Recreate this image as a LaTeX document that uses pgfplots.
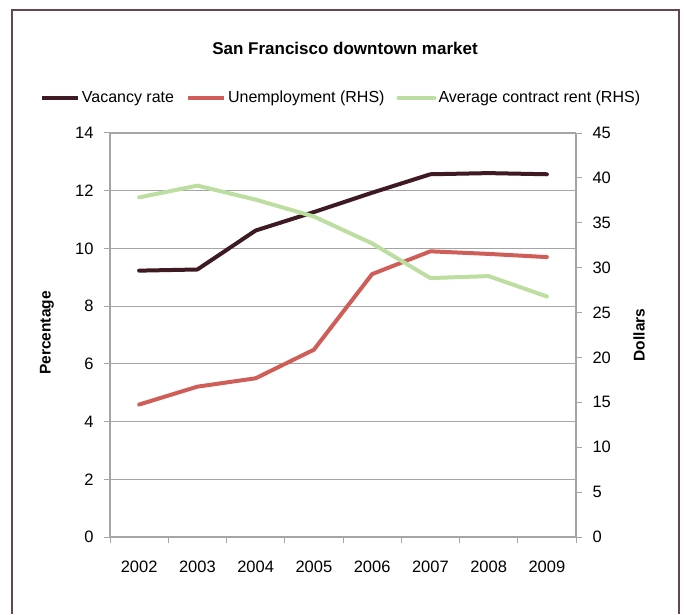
\documentclass[border=0pt]{standalone}
\usepackage{pgfplots}
\pgfplotsset{compat=1.18}
\usepackage{fontspec}
\setmainfont{Liberation Sans}
\definecolor{vac}{RGB}{62,26,34}
\definecolor{unemp}{RGB}{208,94,88}
\definecolor{rent}{RGB}{188,222,160}
\definecolor{gridc}{RGB}{165,165,165}
\definecolor{framec}{RGB}{100,70,80}
\begin{document}
\begin{tikzpicture}[x=1pt,y=1pt]
\fontsize{16}{19}\selectfont
\path[use as bounding box] (0pt,0pt) rectangle (684pt,614pt);
\draw[framec, line width=1.2pt] (12pt,0pt) -- (12pt,604pt) -- (679pt,604pt) -- (679pt,0pt);
\node[font=\fontsize{17}{20}\selectfont\bfseries] at (345pt,566pt) {San Francisco downtown market};
\node[font=\fontsize{15.5}{18}\selectfont\bfseries, rotate=90] at (47pt,281pt) {Percentage};
\node[font=\fontsize{15.5}{18}\selectfont\bfseries, rotate=90] at (639pt,279pt) {Dollars};
\pgfplotsset{
  common/.style={
    scale only axis, width=466pt, height=404pt,
    at={(110pt,77pt)}, anchor=south west,
    xmin=0.5, xmax=8.5,
    tick align=outside,
    major tick length=6pt, minor tick length=6pt,
    tick style={gridc, line width=1pt},
    axis line style={gridc, line width=1.2pt},
    ticklabel style={font=\fontsize{16.5}{19}\selectfont},
    /pgf/number format/assume math mode=true,
    clip=false,
  }
}
\begin{axis}[common,
  ymin=0, ymax=14, ytick={0,2,...,14},
  axis y line*=left, axis x line*=bottom,
  xtick={1,...,8}, xticklabels={2002,2003,2004,2005,2006,2007,2008,2009},
  major x tick style={draw=none},
  minor xtick={0.5,1.5,...,8.5},
  ymajorgrids, grid style={gridc, line width=1.2pt},
  yticklabel style={xshift=-5pt},
  xticklabel style={yshift=-12pt},
]
\addplot[vac, line width=4pt, line cap=round, line join=round] coordinates {
(1,9.23) (2,9.27) (3,10.62) (4,11.26) (5,11.93) (6,12.57) (7,12.61) (8,12.57)};
\addplot[unemp, line width=4pt, line cap=round, line join=round] coordinates {
(1,4.59) (2,5.21) (3,5.50) (4,6.49) (5,9.11) (6,9.90) (7,9.81) (8,9.70)};
\end{axis}
\begin{axis}[common,
  ymin=0, ymax=45, ytick={0,5,...,45},
  axis y line*=right, axis x line=none,
  yticklabel style={xshift=5pt},
  legend columns=3,
  legend style={at={(0.4957,1.0866)}, anchor=center, draw=none, fill=none,
    font=\fontsize{16}{19}\selectfont,
    /tikz/every even column/.append style={column sep=10pt}},
  legend image code/.code={\draw[#1] (0pt,0pt) -- (36pt,0pt);},
]
\addlegendimage{vac, line width=4pt}
\addlegendentry{Vacancy rate}
\addlegendimage{unemp, line width=4pt}
\addlegendentry{Unemployment (RHS)}
\addplot[rent, line width=4pt, line cap=round, line join=round] coordinates {
(1,37.83) (2,39.14) (3,37.58) (4,35.7) (5,32.7) (6,28.84) (7,29.06) (8,26.79)};
\addlegendentry{Average contract rent (RHS)}
\end{axis}
\end{tikzpicture}
\end{document}
